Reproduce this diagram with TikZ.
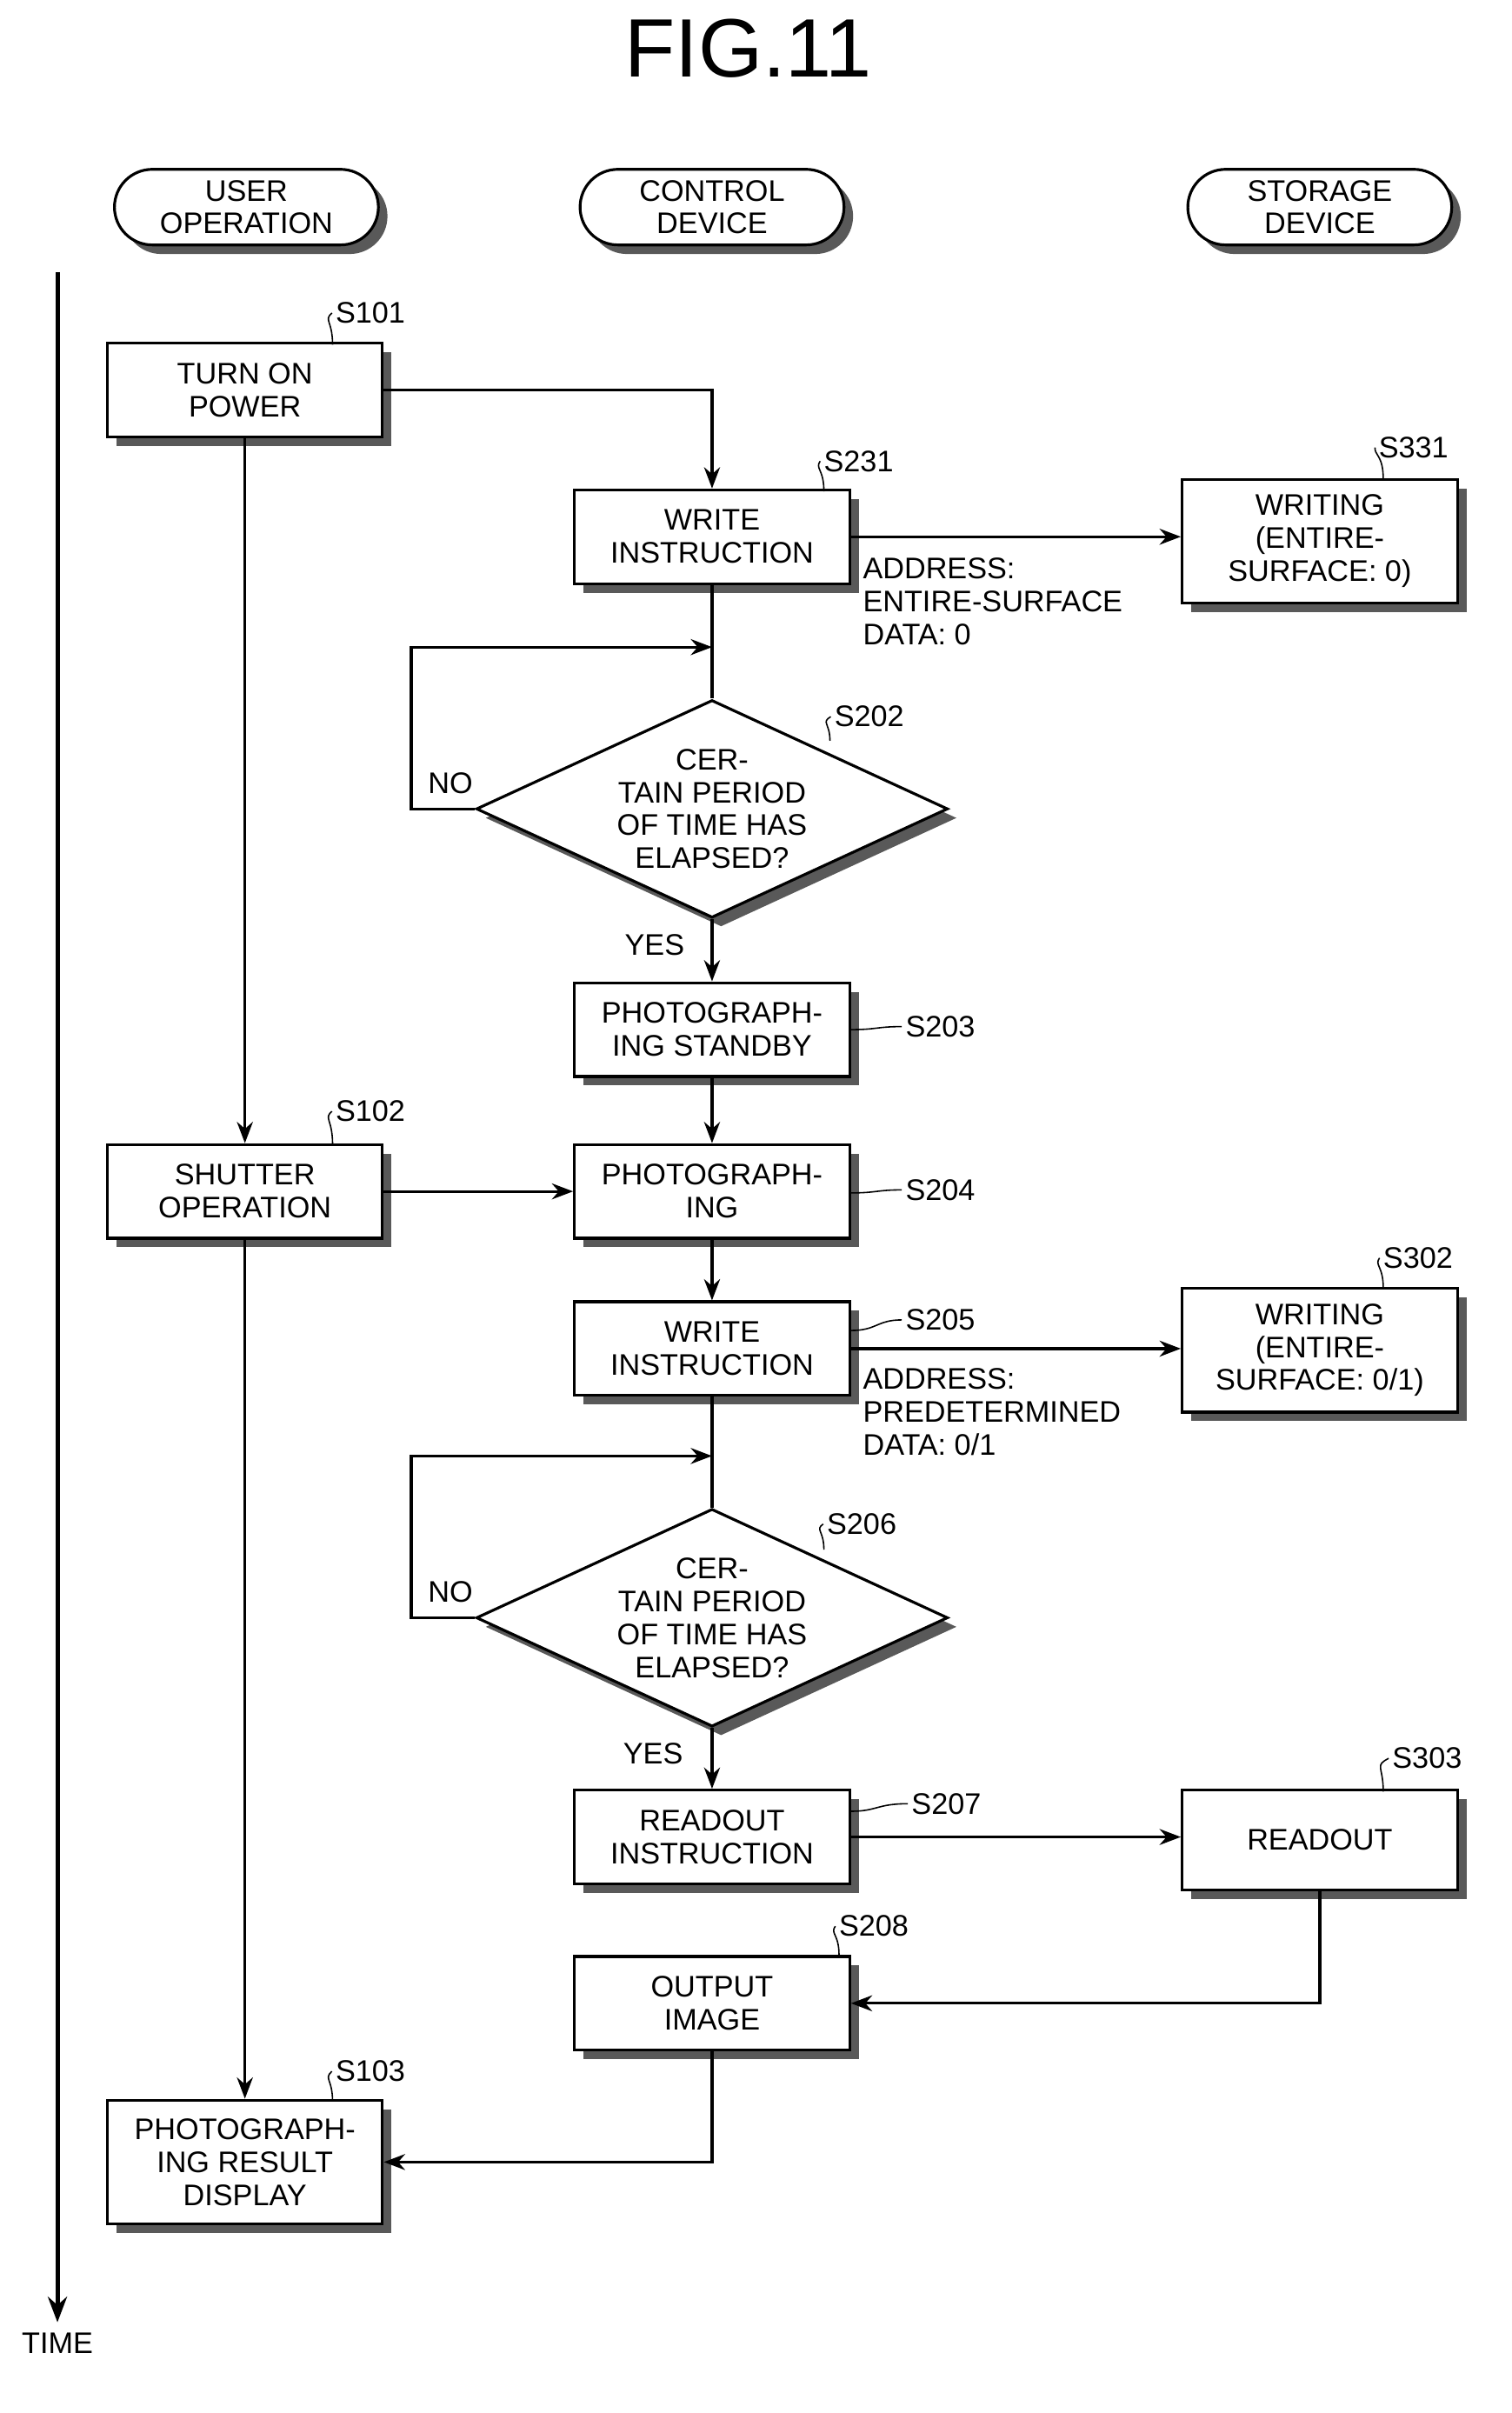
\documentclass[tikz,border=0pt]{standalone}
\usepackage{fontspec}
\setmainfont{Liberation Sans}
\usetikzlibrary{shapes.geometric,shapes.misc,shadows,arrows.meta}
\begin{document}
\begin{tikzpicture}[x=0.05cm,y=-0.05cm,
  every node/.style={font=\fontsize{28}{31}\selectfont},
  ln/.style={line width=2.6pt},
  arr/.style={ln,-{Stealth[length=20pt,width=15pt]}},
  sh/.style={drop shadow={shadow xshift=0.3cm,shadow yshift=-0.3cm,fill=black!65,opacity=1}},
  box/.style={draw,ln,fill=white,sh,minimum width=9.1cm,minimum height=3.1cm,align=center,inner sep=1pt},
  sbox/.style={box,minimum height=4.1cm},
  dia/.style={draw,ln,fill=white,sh,diamond,aspect=2.15,minimum width=15.6cm,minimum height=7.2cm,align=center,inner sep=0pt},
  pill/.style={draw,ln,fill=white,sh,rounded rectangle,minimum width=8.8cm,minimum height=2.5cm,align=center,inner sep=1pt},
  lab/.style={anchor=west,inner sep=1pt},
  sq/.style={line width=1.3pt}
]
\useasboundingbox (0,0) rectangle (1000,1596);
\node (title) at (495,32) {\fontsize{78}{80}\selectfont FIG.11};
\node[pill] (h1) at (163,137) {USER\\OPERATION};
\node[pill] (h2) at (471,137) {CONTROL\\DEVICE};
\node[pill] (h3) at (873,137) {STORAGE\\DEVICE};
\coordinate (t0) at (38,180); \coordinate (t1) at (38,1536);
\draw[line width=4pt,-{Stealth[length=24pt,width=18pt]}] (t0) -- (t1);
\node (time) at (38,1550) {TIME};

\node[box] (s101) at (162,258) {TURN ON\\POWER};
\node[box] (s102) at (162,788) {SHUTTER\\OPERATION};
\node[sbox] (s103) at (162,1430) {PHOTOGRAPH-\\ING RESULT\\DISPLAY};
\node[box] (s231) at (471,355) {WRITE\\INSTRUCTION};
\node[dia] (s202) at (471,535) {CER-\\TAIN PERIOD\\OF TIME HAS\\ELAPSED?};
\node[box] (s203) at (471,681) {PHOTOGRAPH-\\ING STANDBY};
\node[box] (s204) at (471,788) {PHOTOGRAPH-\\ING};
\node[box] (s205) at (471,892) {WRITE\\INSTRUCTION};
\node[dia] (s206) at (471,1070) {CER-\\TAIN PERIOD\\OF TIME HAS\\ELAPSED?};
\node[box] (s207) at (471,1215) {READOUT\\INSTRUCTION};
\node[box] (s208) at (471,1325) {OUTPUT\\IMAGE};
\node[sbox] (s331) at (873,358) {WRITING\\(ENTIRE-\\SURFACE: 0)};
\node[sbox] (s302) at (873,893) {WRITING\\(ENTIRE-\\SURFACE: 0/1)};
\node[box,minimum height=3.3cm] (s303) at (873,1217) {READOUT};

\draw[arr] (s101.east) -| (s231.north);
\draw[arr] (s101.south) -- (s102.north);
\draw[arr] (s102.south) -- (s103.north);
\draw[arr] (s102.east) -- (s102.east -| s204.west);
\draw[ln] (s231.south) -- (s202.north);
\coordinate (j1) at (471,428);
\draw[arr] (s202.west) -| (272,428) -- (j1);
\node (no1) at (298,518) {NO};
\draw[arr] (s231.east) -- (s231.east -| s331.west);
\node[lab,align=left] (a1) at (570,398) {ADDRESS:\\ENTIRE-SURFACE\\DATA: 0};
\draw[arr] (s202.south) -- (s203.north);
\node (yes1) at (433,625) {YES};
\draw[arr] (s203.south) -- (s204.north);
\draw[arr] (s204.south) -- (s205.north);
\draw[arr] (s205.east) -- (s205.east -| s302.west);
\node[lab,align=left] (a2) at (570,934) {ADDRESS:\\PREDETERMINED\\DATA: 0/1};
\draw[ln] (s205.south) -- (s206.north);
\coordinate (j2) at (471,963);
\draw[arr] (s206.west) -| (272,963) -- (j2);
\node (no2) at (298,1053) {NO};
\draw[arr] (s206.south) -- (s207.north);
\node (yes2) at (432,1160) {YES};
\draw[arr] (s207.east) -- (s207.east -| s303.west);
\draw[arr] (s303.south) |- (s208.east);
\draw[arr] (s208.south) |- (s103.east);

\node (l101) at (245,207) {S101};
\draw[sq] (220,228) .. controls (220,212) and (214,212) .. (l101.west);
\node (l231) at (568,305) {S231};
\draw[sq] (545,325) .. controls (545,310) and (539,310) .. (l231.west);
\node (l331) at (935,296) {S331};
\draw[sq] (915,317) .. controls (915,301) and (909,301) .. (l331.west);
\node (l202) at (575,474) {S202};
\draw[sq] (549,490) .. controls (549,478) and (543,478) .. (l202.west);
\node (l203) at (622,679) {S203};
\draw[sq] (563,681) .. controls (580,681) and (580,679) .. (l203.west);
\node (l102) at (245,735) {S102};
\draw[sq] (220,757) .. controls (220,740) and (214,740) .. (l102.west);
\node (l204) at (622,787) {S204};
\draw[sq] (563,789) .. controls (580,789) and (580,787) .. (l204.west);
\node (l302) at (938,832) {S302};
\draw[sq] (915,852) .. controls (915,837) and (909,837) .. (l302.west);
\node (l205) at (622,873) {S205};
\draw[sq] (563,880) .. controls (580,880) and (580,873) .. (l205.west);
\node (l206) at (570,1008) {S206};
\draw[sq] (545,1025) .. controls (545,1012) and (539,1012) .. (l206.west);
\node (l303) at (944,1163) {S303};
\draw[sq] (915,1185) .. controls (915,1168) and (909,1168) .. (l303.west);
\node (l207) at (626,1193) {S207};
\draw[sq] (563,1198) .. controls (580,1198) and (580,1193) .. (l207.west);
\node (l208) at (578,1274) {S208};
\draw[sq] (555,1293) .. controls (555,1279) and (549,1279) .. (l208.west);
\node (l103) at (245,1370) {S103};
\draw[sq] (220,1390) .. controls (220,1375) and (214,1375) .. (l103.west);
\end{tikzpicture}
\end{document}
